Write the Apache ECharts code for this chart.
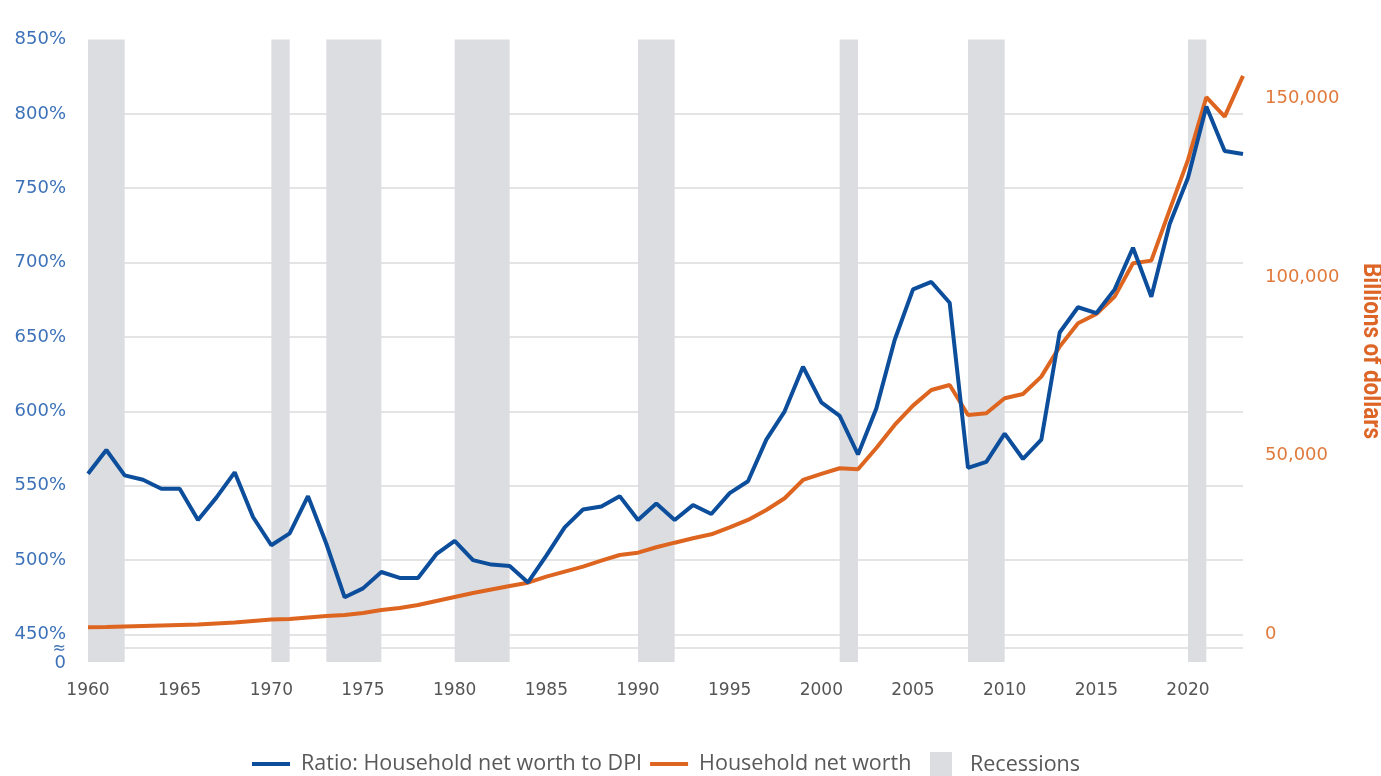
<!DOCTYPE html>
<html><head><meta charset="utf-8">
<script src="https://cdn.jsdelivr.net/npm/echarts@6/dist/echarts.min.js"></script>
<style>html,body{margin:0;padding:0;background:#fff}#c{width:1381px;height:776px}</style>
</head><body><div id="c"></div>
<script>
const years = [1960,1961,1962,1963,1964,1965,1966,1967,1968,1969,
  1970,1971,1972,1973,1974,1975,1976,1977,1978,1979,
  1980,1981,1982,1983,1984,1985,1986,1987,1988,1989,
  1990,1991,1992,1993,1994,1995,1996,1997,1998,1999,
  2000,2001,2002,2003,2004,2005,2006,2007,2008,2009,
  2010,2011,2012,2013,2014,2015,2016,2017,2018,2019,
  2020,2021,2022,2023];
// Ratio: household net worth to disposable personal income (%)
const ratioToDPI = [558,574,557,554,548,548,527,542,559,529,
  510,518,543,511,475,481,492,488,488,504,
  513,500,497,496,485,503,522,534,536,543,
  527,538,527,537,531,545,553,581,600,630,
  606,597,571,602,648,682,687,673,562,566,
  585,568,581,653,670,666,682,710,677,726,
  757,805,775,773];
// Household net worth (billions of dollars)
const netWorth = [2020,2100,2240,2380,2520,2660,2800,3080,3360,3780,
  4200,4340,4760,5180,5460,6020,6860,7420,8260,9380,
  10500,11610,12600,13570,14500,16180,17580,18980,20650,22250,
  22890,24410,25690,26920,28040,30000,32050,34840,38120,43240,
  44920,46520,46240,52200,58630,64040,68430,69830,61430,61910,
  66110,67310,72150,80550,87100,89700,94540,103890,104620,118810,
  132800,150350,144920,156310];
const recessionStart = [1960,1970,1973,1980,1990,2001,2008,2020];
const recessionEnd   = [1962,1971,1976,1983,1992,2002,2010,2021];
const xTickLabels = [1960,1965,1970,1975,1980,1985,1990,1995,2000,2005,2010,2015,2020];
const leftTickLabels = [450,500,550,600,650,700,750,800,850];
const rightTickLabels = [0,50000,100000,150000];

// broken left axis: bottom of plot shows "≈ 0"
const LEFT_MIN = 431.5, LEFT_BREAK = 440.9, ZERO_POS = 434.87;
const chart = echarts.init(document.getElementById('c'), null, {renderer:'canvas'});
const axisFont = 'DejaVu Sans';
const legendText = {fontFamily:'Open Sans',fontSize:21.5,color:'#595959'};
const option = {
  backgroundColor:'#fff',
  animation:false,
  grid:{left:88,right:138,top:39.5,bottom:114,containLabel:false},
  xAxis:{type:'value',min:1960,max:2023,
    axisLine:{show:false},axisTick:{show:false},splitLine:{show:false},
    axisLabel:{customValues:xTickLabels,margin:20,color:'#555',fontFamily:axisFont,fontSize:17,formatter:v=>String(v)}},
  yAxis:[
    {type:'value',min:LEFT_MIN,max:850,position:'left',
      axisLine:{show:false},
      axisTick:{show:false,customValues:[LEFT_BREAK].concat(leftTickLabels.slice(0,-1))},
      splitLine:{show:true,lineStyle:{color:'#e4e4e4',width:2}},
      axisLabel:{customValues:[LEFT_MIN,ZERO_POS].concat(leftTickLabels),margin:22,hideOverlap:false,
        lineHeight:10,color:'#3d72b8',fontFamily:axisFont,fontSize:18,
        formatter:v=> v<433 ? ' ' : (v<445 ? '{s|≈}\n{z|0}' : v+'%'),
        rich:{s:{fontSize:16,lineHeight:12,color:'#3d72b8',fontFamily:axisFont,align:'right'},
              z:{fontSize:18,lineHeight:16,color:'#3d72b8',fontFamily:axisFont,align:'right'}}}},
    {type:'value',min:-7700,max:166500,position:'right',
      axisLine:{show:false},axisTick:{show:false,customValues:rightTickLabels},splitLine:{show:false},
      axisLabel:{customValues:rightTickLabels,margin:22,color:'#e07a3c',fontFamily:axisFont,fontSize:18,
        formatter:v=>v.toLocaleString('en-US')}}
  ],
  legend:[
    {data:['Ratio: Household net worth to DPI','Household net worth'],left:247,top:748,
      icon:'rect',itemWidth:38,itemHeight:4,itemGap:8,
      textStyle:Object.assign({padding:[0,0,0,6]},legendText)},
    {data:['Recessions'],left:925,top:747,icon:'rect',itemWidth:22,itemHeight:25,
      textStyle:Object.assign({padding:[0,0,0,13]},legendText)}
  ],
  graphic:[{type:'text',x:1370,y:351,rotation:-Math.PI/2,scaleX:0.9,
    style:{text:'Billions of dollars',fill:'#dd6526',font:'bold 25px Roboto',textAlign:'center',textVerticalAlign:'middle'}}],
  series:[
    {name:'Ratio: Household net worth to DPI',type:'line',yAxisIndex:0,z:4,
      data:years.map((y,i)=>[y,ratioToDPI[i]]),showSymbol:false,symbol:'none',
      lineStyle:{color:'#0c4e9b',width:4},itemStyle:{color:'#0c4e9b'}},
    {name:'Household net worth',type:'line',yAxisIndex:1,z:3,
      data:years.map((y,i)=>[y,netWorth[i]]),showSymbol:false,symbol:'none',
      lineStyle:{color:'#dd6520',width:4},itemStyle:{color:'#dd6520'}},
    {name:'Recessions',type:'line',yAxisIndex:0,z:1,data:[],
      itemStyle:{color:'#dcdde0'},lineStyle:{color:'#dcdde0'},
      markArea:{silent:true,itemStyle:{color:'#dcdde0'},
        data:recessionStart.map((s,i)=>[{xAxis:s},{xAxis:recessionEnd[i]}])}}
  ]
};
chart.setOption(option);
</script></body></html>
